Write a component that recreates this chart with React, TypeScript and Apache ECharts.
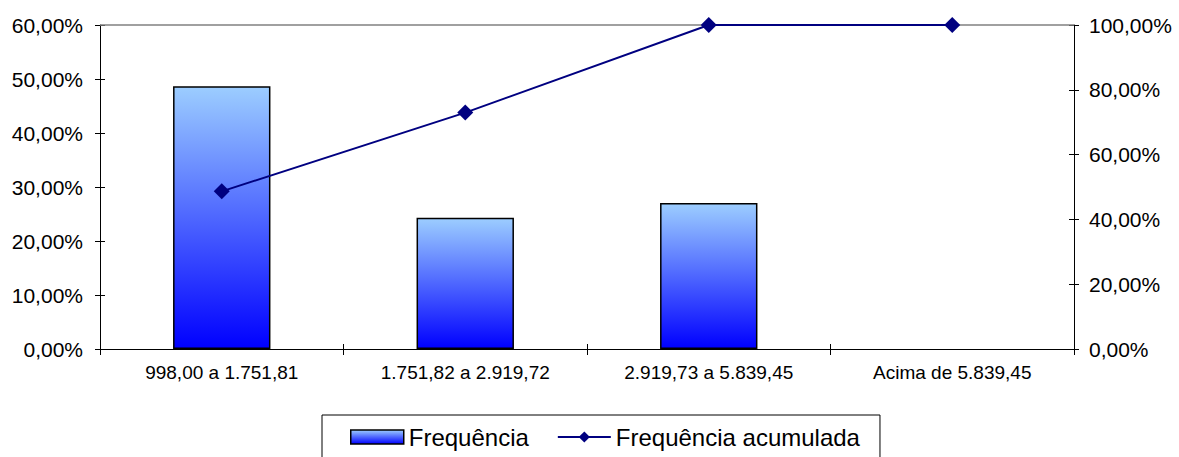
import React, { useEffect, useRef } from "react";
import * as echarts from "echarts";

const categories = ["998,00 a 1.751,81", "1.751,82 a 2.919,72", "2.919,73 a 5.839,45", "Acima de 5.839,45"];
const frequencia = [48.65, 24.32, 27.03, 0];
const acumulada = [48.65, 72.97, 100, 100];
const leftMax = 60;
const leftStep = 10;
const rightMax = 100;
const rightStep = 20;

const fmt = (v: number) => v.toFixed(2).replace(".", ",") + "%";
const FONT = "Liberation Sans, Arial, sans-serif";

export default function App() {
  const ref = useRef<HTMLDivElement>(null);
  useEffect(() => {
    if (!ref.current) return;
    const chart = echarts.init(ref.current, null, { renderer: "svg" });
    const barGrad = new echarts.graphic.LinearGradient(0, 0, 0, 1, [
      { offset: 0, color: "#9ccdff" },
      { offset: 1, color: "#0000ff" },
    ]);
    const tick = { color: "#000", width: 1 };
    chart.setOption({
      animation: false,
      backgroundColor: "#ffffff",
      textStyle: { fontFamily: FONT },
      grid: { left: 100, right: 105, top: 25, bottom: 108, containLabel: false },
      legend: {
        top: 415,
        left: 322,
        borderColor: "#000",
        borderWidth: 1,
        padding: [10, 20, 22, 28],
        itemGap: 28,
        itemWidth: 53,
        itemHeight: 14,
        textStyle: { fontSize: 24, color: "#000", fontFamily: FONT },
        data: [
          { name: "Frequência", icon: "rect", itemStyle: { color: barGrad, borderColor: "#000", borderWidth: 1.5 } },
          { name: "Frequência acumulada" },
        ],
      },
      xAxis: [
        {
          type: "category",
          data: categories,
          axisLine: { lineStyle: { color: "#000", width: 1 } },
          axisTick: { show: true, length: 6, lineStyle: tick },
          axisLabel: { color: "#000", fontSize: 19, margin: 14 },
          splitLine: { show: false },
        },
        {
          type: "category",
          data: categories,
          position: "bottom",
          axisLine: { show: false },
          axisTick: { show: true, inside: true, length: 5, lineStyle: tick },
          axisLabel: { show: false },
          splitLine: { show: false },
        },
      ],
      yAxis: [
        {
          type: "value",
          min: 0,
          max: leftMax,
          interval: leftStep,
          axisLine: { show: true, lineStyle: { color: "#000" } },
          axisTick: { show: true, length: 5, lineStyle: tick },
          axisLabel: { color: "#000", fontSize: 21, margin: 17, formatter: (v: number) => fmt(v) },
          splitLine: { show: false },
        },
        {
          type: "value",
          min: 0,
          max: rightMax,
          interval: rightStep,
          position: "right",
          axisLine: { show: true, lineStyle: { color: "#000" } },
          axisTick: { show: true, length: 5, lineStyle: tick },
          axisLabel: { color: "#000", fontSize: 21, margin: 15, formatter: (v: number) => fmt(v) },
          splitLine: { show: false },
        },
        {
          type: "value",
          min: 0,
          max: leftMax,
          interval: leftStep,
          position: "left",
          axisLine: { show: false },
          axisTick: { show: true, inside: true, length: 5, lineStyle: tick },
          axisLabel: { show: false },
          splitLine: { show: false },
        },
        {
          type: "value",
          min: 0,
          max: rightMax,
          interval: rightStep,
          position: "right",
          axisLine: { show: false },
          axisTick: { show: true, inside: true, length: 5, lineStyle: tick },
          axisLabel: { show: false },
          splitLine: { show: false },
        },
      ],
      series: [
        {
          name: "Frequência",
          type: "bar",
          data: frequencia.map((v) => (v === 0 ? { value: v, itemStyle: { borderWidth: 0 } } : v)),
          barWidth: "40%",
          yAxisIndex: 0,
          itemStyle: { color: barGrad, borderColor: "#000", borderWidth: 1.5 },
          markLine: {
            silent: true,
            symbol: "none",
            label: { show: false },
            lineStyle: { color: "#808080", width: 1.5, type: "solid" },
            data: [{ yAxis: leftMax }],
          },
        },
        {
          name: "Frequência acumulada",
          type: "line",
          data: acumulada,
          yAxisIndex: 1,
          symbol: "diamond",
          symbolSize: 16,
          lineStyle: { color: "#000080", width: 2 },
          itemStyle: { color: "#000080" },
          z: 5,
        },
      ],
    });
    return () => chart.dispose();
  }, []);
  return <div ref={ref} style={{ position: "fixed", left: 0, top: 0, width: 1179, height: 457 }} />;
}
